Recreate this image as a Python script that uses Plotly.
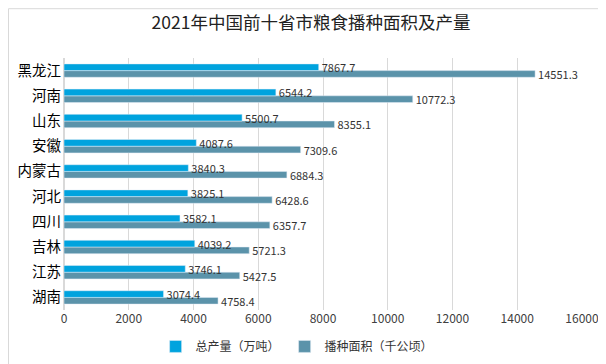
import plotly.graph_objects as go

provinces = ["黑龙江", "河南", "山东", "安徽", "内蒙古", "河北", "四川", "吉林", "江苏", "湖南"]
output = [7867.7, 6544.2, 5500.7, 4087.6, 3840.3, 3825.1, 3582.1, 4039.2, 3746.1, 3074.4]
area = [14551.3, 10772.3, 8355.1, 7309.6, 6884.3, 6428.6, 6357.7, 5721.3, 5427.5, 4758.4]
x_ticks = [0, 2000, 4000, 6000, 8000, 10000, 12000, 14000, 16000]

FONT = "Noto Sans CJK SC"

fig = go.Figure()
# drawn first (lower bar in each group), so the upper bar's labels sit on top
fig.add_trace(go.Bar(
    y=provinces, x=area, orientation="h", name="播种面积（千公顷）",
    marker_color="#5B93AA", text=[f"{v:.1f}" for v in area],
    textposition="outside", textfont=dict(size=11, color="#333333"),
    constraintext="none", cliponaxis=False, legendrank=2,
))
fig.add_trace(go.Bar(
    y=provinces, x=output, orientation="h", name="总产量（万吨）",
    marker_color="#00A3DE", text=[f"{v:.1f}" for v in output],
    textposition="outside", textfont=dict(size=11, color="#333333"),
    constraintext="none", cliponaxis=False, legendrank=1,
))

fig.update_layout(
    width=606, height=364,
    margin=dict(l=56, r=32, t=50, b=61),
    paper_bgcolor="white", plot_bgcolor="white",
    font=dict(family=FONT, color="#404040"),
    title=dict(text="2021年中国前十省市粮食播种面积及产量", x=0.5, xanchor="center",
               y=0.96, yanchor="middle", font=dict(size=17.5, color="#222222", family=FONT)),
    barmode="group", bargap=0.47, bargroupgap=0,
    uniformtext=dict(mode="show", minsize=11),
    showlegend=True,
    legend=dict(orientation="h", x=0.45, xanchor="center", y=-0.14, yanchor="middle",
                font=dict(size=12, color="#333333"), itemwidth=30),
    xaxis=dict(range=[0, 16000], tickvals=x_ticks, ticktext=[str(v) for v in x_ticks],
               showgrid=True, gridcolor="#D9D9D9", automargin=False,
               gridwidth=1, zeroline=True, zerolinecolor="#D9D9D9", showline=False,
               tickfont=dict(size=12, color="#404040"), ticks=""),
    yaxis=dict(categoryorder="array", categoryarray=provinces[::-1],
               showgrid=False, showline=False, ticks="", automargin=False,
               tickfont=dict(size=14.5, color="#000000"), ticklabelstandoff=2),
    shapes=[dict(type="rect", xref="paper", yref="paper",
                 x0=-55.5/518, x1=549.5/518, y0=-60.5/253, y1=302.5/253,
                 line=dict(color="#D9D9D9", width=1), fillcolor="rgba(0,0,0,0)")],
)

fig.write_html("out.html")
